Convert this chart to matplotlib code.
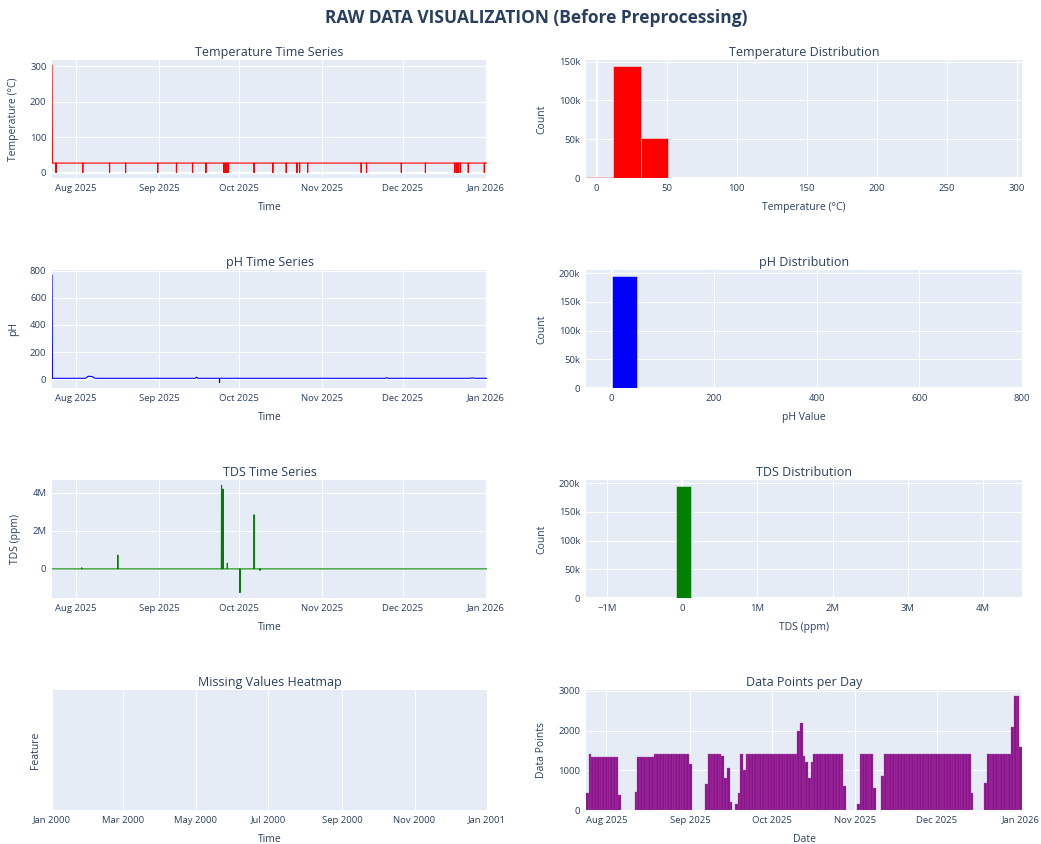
import matplotlib
matplotlib.use("Agg")
import matplotlib.pyplot as plt
import matplotlib.dates as mdates
from matplotlib.ticker import FuncFormatter, MultipleLocator
import pandas as pd

BG, INK = "#e5ecf6", "#2a3f5f"
plt.rcParams.update({"font.family": ["Open Sans", "DejaVu Sans"], "font.size": 7})

# ---- sensor time series ----
temp_time = ["2025-07-23 00:00", "2025-07-23 04:00",
             "2025-07-24 11:00", "2025-07-24 12:00", "2025-07-24 13:00",
             "2025-08-03 11:00", "2025-08-03 12:00", "2025-08-03 13:00",
             "2025-08-13 11:00", "2025-08-13 12:00", "2025-08-13 13:00",
             "2025-08-19 11:00", "2025-08-19 12:00", "2025-08-19 13:00",
             "2025-08-31 11:00", "2025-08-31 12:00", "2025-08-31 13:00",
             "2025-09-07 11:00", "2025-09-07 12:00", "2025-09-07 13:00",
             "2025-09-13 11:00", "2025-09-13 12:00", "2025-09-13 13:00",
             "2025-09-18 11:00", "2025-09-18 12:00", "2025-09-18 13:00",
             "2025-09-25 05:00", "2025-09-25 06:00", "2025-09-25 07:00",
             "2025-09-25 17:00", "2025-09-25 18:00", "2025-09-25 19:00",
             "2025-09-26 05:00", "2025-09-26 06:00", "2025-09-26 07:00",
             "2025-09-26 17:00", "2025-09-26 18:00", "2025-09-26 19:00",
             "2025-10-06 11:00", "2025-10-06 12:00", "2025-10-06 13:00",
             "2025-10-13 11:00", "2025-10-13 12:00", "2025-10-13 13:00",
             "2025-10-18 11:00", "2025-10-18 12:00", "2025-10-18 13:00",
             "2025-10-22 11:00", "2025-10-22 12:00", "2025-10-22 13:00",
             "2025-10-23 11:00", "2025-10-23 12:00", "2025-10-23 13:00",
             "2025-10-26 11:00", "2025-10-26 12:00", "2025-10-26 13:00",
             "2025-11-15 11:00", "2025-11-15 12:00", "2025-11-15 13:00",
             "2025-11-17 11:00", "2025-11-17 12:00", "2025-11-17 13:00",
             "2025-11-30 11:00", "2025-11-30 12:00", "2025-11-30 13:00",
             "2025-12-09 11:00", "2025-12-09 12:00", "2025-12-09 13:00",
             "2025-12-20 11:00", "2025-12-20 12:00", "2025-12-20 13:00",
             "2025-12-21 05:00", "2025-12-21 06:00", "2025-12-21 07:00",
             "2025-12-21 17:00", "2025-12-21 18:00", "2025-12-21 19:00",
             "2025-12-22 11:00", "2025-12-22 12:00", "2025-12-22 13:00",
             "2025-12-25 11:00", "2025-12-25 12:00", "2025-12-25 13:00",
             "2025-12-31 11:00", "2025-12-31 12:00", "2025-12-31 13:00",
             "2026-01-01 12:00"]
temp_val = [303, 27] + [27, 0, 27] * 28 + [27]

ph_time = ["2025-07-23 00:00", "2025-07-23 04:00", "2025-08-04 12:00", "2025-08-05 12:00",
           "2025-08-07 00:00", "2025-08-08 00:00", "2025-09-14 12:00", "2025-09-15 00:00",
           "2025-09-15 12:00", "2025-09-23 12:00", "2025-09-23 14:00", "2025-09-23 16:00",
           "2025-11-24 12:00", "2025-11-25 00:00", "2025-11-25 12:00", "2025-12-26 00:00",
           "2025-12-27 00:00", "2025-12-28 00:00", "2026-01-01 12:00"]
ph_val = [765, 7, 7, 22, 20, 7, 7, 15, 7, 7, -25, 7, 7, 12, 7, 7, 10, 7, 7]

tds_time = ["2025-07-23 00:00", "2025-08-03 00:00", "2025-08-03 02:00", "2025-08-03 04:00",
            "2025-08-16 12:00", "2025-08-16 14:00", "2025-08-16 16:00",
            "2025-09-24 06:00", "2025-09-24 08:00", "2025-09-24 10:00",
            "2025-09-24 20:00", "2025-09-24 22:00", "2025-09-25 00:00",
            "2025-09-26 10:00", "2025-09-26 12:00", "2025-09-26 14:00",
            "2025-10-01 03:00", "2025-10-01 05:00", "2025-10-01 07:00",
            "2025-10-06 10:00", "2025-10-06 12:00", "2025-10-06 14:00",
            "2025-10-08 14:00", "2025-10-08 16:00", "2025-10-08 18:00",
            "2026-01-01 12:00"]
tds_val = [450, 450, 60000, 450, 450, 730000, 450, 450, 4400000, 450, 450, 4200000, 450,
           450, 300000, 450, 450, -1250000, 450, 450, 2850000, 450, 450, -80000, 450, 450]

# ---- histograms ----
temp_edges = [-7.6, 11.85, 31.3, 50.75, 70.2, 89.65, 109.1, 128.55, 148.0, 167.45,
              186.9, 206.35, 225.8, 245.25, 264.7, 284.15, 303.6]
temp_counts = [900, 145000, 52000, 60, 0, 0, 0, 0, 0, 0, 0, 0, 0, 0, 0, 3]
ph_edges = [-50, 0, 50, 100, 150, 200, 250, 300, 350, 400, 450, 500, 550, 600, 650, 700,
            750, 800]
ph_counts = [20, 196000, 300, 0, 0, 0, 0, 0, 0, 0, 0, 0, 0, 0, 0, 0, 2]
tds_edges = [-1.28e6, -1.08e6, -0.88e6, -0.68e6, -0.48e6, -0.28e6, -0.08e6, 0.12e6,
             0.32e6, 0.52e6, 0.72e6, 0.92e6, 1.12e6, 1.32e6, 1.52e6, 1.72e6, 1.92e6,
             2.12e6, 2.32e6, 2.52e6, 2.72e6, 2.92e6, 3.12e6, 3.32e6, 3.52e6, 3.72e6,
             3.92e6, 4.12e6, 4.32e6, 4.52e6]
tds_counts = [1, 0, 0, 0, 0, 0, 196000, 3, 0, 0, 1, 0, 0, 0, 0, 0, 0, 0, 0, 0, 1, 0, 0,
              0, 0, 0, 0, 0, 2]

# ---- data points per day (segments of consecutive days) ----
seg_starts = ["2025-07-25", "2025-08-12", "2025-09-07", "2025-09-18", "2025-11-02",
              "2025-11-11", "2025-12-19"]
seg_counts = [
    [430, 1420] + [1340] * 10 + [380],
    [450] + [1340] * 6 + [1420] * 13 + [1150],
    [650] + [1420] * 5 + [1350, 800, 1070, 200],
    [150, 420, 1420, 1000] + [1420] * 19 + [2000, 2200, 1350, 1200, 800, 1200]
    + [1420] * 11 + [600],
    [150] + [1420] * 5 + [550],
    [850] + [1420] * 32 + [420],
    [680] + [1420] * 9 + [2100, 2880, 2880, 1600],
]

W, H = 1041, 844
fig = plt.figure(figsize=(W / 100, H / 100), dpi=100)
cols = [(52, 487), (586, 1022)]
rows = [(60, 178), (270, 388), (480, 598), (690, 810)]


def panel(r, c, title, xlabel, ylabel):
    x0, x1 = cols[c]; y0, y1 = rows[r]
    ax = fig.add_axes([x0 / W, 1 - y1 / H, (x1 - x0) / W, (y1 - y0) / H])
    ax.set_facecolor(BG)
    for s in ax.spines.values():
        s.set_visible(False)
    ax.grid(True, color="white", lw=0.7)
    ax.set_axisbelow(True)
    ax.tick_params(length=0, labelsize=6.8, labelcolor=INK, pad=4)
    ax.set_title(title, fontsize=9, color=INK, pad=3)
    ax.set_xlabel(xlabel, fontsize=7.5, color=INK, labelpad=7)
    ax.set_ylabel(ylabel, fontsize=7.5, color=INK, labelpad=8)
    return ax


def date_axis(ax, interval=1):
    ax.xaxis.set_major_locator(mdates.MonthLocator(interval=interval))
    ax.xaxis.set_major_formatter(mdates.DateFormatter("%b %Y"))


def mega(v, _):
    return "0" if v == 0 else f"{v / 1e6:g}M".replace("-", "\u2212")


def kilo(v, _):
    return "0" if v == 0 else f"{v / 1e3:g}k"


def series(r, title, ylabel, times, vals, color, step, fmt=None):
    ax = panel(r, 0, title, "Time", ylabel)
    t = pd.to_datetime(times)
    ax.axhline(0, color="white", lw=1.6, zorder=1)
    ax.plot(t, vals, color=color, lw=0.8, zorder=2)
    ax.set_xlim(t[0], t[-1])
    ax.margins(y=0.05)
    ax.yaxis.set_major_locator(MultipleLocator(step))
    if fmt:
        ax.yaxis.set_major_formatter(FuncFormatter(fmt))
    date_axis(ax)


def hist(r, title, xlabel, edges, counts, color, xstep, xfmt=None):
    ax = panel(r, 1, title, xlabel, "Count")
    widths = [b - a for a, b in zip(edges[:-1], edges[1:])]
    ax.axhline(0, color="white", lw=1.6, zorder=1)
    ax.axvline(0, color="white", lw=1.6, zorder=1)
    ax.bar(edges[:-1], counts, width=widths, align="edge", color=color,
           edgecolor=BG, lw=0.4, zorder=2)
    ax.set_xlim(edges[0], edges[-1])
    ax.xaxis.set_major_locator(MultipleLocator(xstep))
    ax.yaxis.set_major_locator(MultipleLocator(50000))
    ax.yaxis.set_major_formatter(FuncFormatter(kilo))
    if xfmt:
        ax.xaxis.set_major_formatter(FuncFormatter(xfmt))


series(0, "Temperature Time Series", "Temperature (°C)", temp_time, temp_val, "red", 100)
series(1, "pH Time Series", "pH", ph_time, ph_val, "blue", 200)
series(2, "TDS Time Series", "TDS (ppm)", tds_time, tds_val, "green", 2e6, mega)

hist(0, "Temperature Distribution", "Temperature (°C)", temp_edges, temp_counts, "red", 50)
hist(1, "pH Distribution", "pH Value", ph_edges, ph_counts, "blue", 200)
hist(2, "TDS Distribution", "TDS (ppm)", tds_edges, tds_counts, "green", 1e6, mega)

# missing values heatmap (empty)
ax = panel(3, 0, "Missing Values Heatmap", "Time", "Feature")
ax.set_xlim(pd.Timestamp("2000-01-01"), pd.Timestamp("2001-01-01"))
ax.set_yticks([])
ax.grid(False, axis="y")
date_axis(ax, 2)

# data points per day
ax = panel(3, 1, "Data Points per Day", "Date", "Data Points")
for start, counts in zip(seg_starts, seg_counts):
    days = pd.date_range(start, periods=len(counts), freq="D")
    ax.bar(days, counts, width=1.0, color="#8a128a", edgecolor="#b050b0", lw=0.25, zorder=2)
first = pd.Timestamp(seg_starts[0])
last = pd.Timestamp(seg_starts[-1]) + pd.Timedelta(days=len(seg_counts[-1]) - 1)
ax.set_xlim(first - pd.Timedelta(hours=12), last + pd.Timedelta(hours=12))
ax.yaxis.set_major_locator(MultipleLocator(1000))
date_axis(ax)

fig.text(536 / W, 1 - 18 / H, "RAW DATA VISUALIZATION (Before Preprocessing)",
         ha="center", va="center", fontsize=12.5, fontweight="bold", color=INK)

fig.savefig("out.png", dpi=100)
